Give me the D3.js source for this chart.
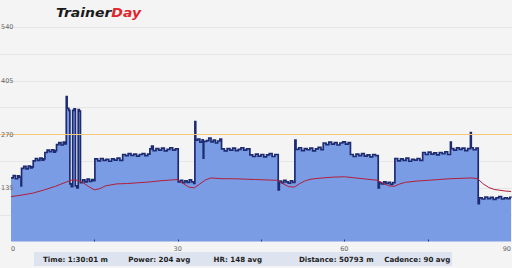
<!DOCTYPE html>
<html>
<head>
<meta charset="utf-8">
<script src="https://cdn.jsdelivr.net/npm/d3@7"></script>
<style>
  html, body { margin: 0; padding: 0; background: #f4f4f4; }
  svg { display: block; }
</style>
</head>
<body>
<div id="chart"></div>
<script>
// Workout-Verlauf: Leistung (Fläche) und Herzfrequenz (Linie)

// Leistung in Watt, Zeit in Minuten (Stufen)
const powerTime = [
  0, 0.4, 0.8, 1.2, 1.5, 1.8,
  1.9, 2.3, 2.7, 3.1, 3.5, 3.8,
  4.0, 4.4, 4.8, 5.2, 5.6, 5.9,
  6.1, 6.5, 6.9, 7.3, 7.7, 8.0,
  8.2, 8.6, 9.0, 9.4, 9.7,
  9.95, 10.1, 10.4, 10.6, 10.85, 11.1, 11.35, 11.6, 11.85, 12.1, 12.3,
  12.5, 12.9, 13.3, 13.7, 14.1, 14.5, 14.8,
  15.1, 15.6, 16.1, 16.6, 17.1, 17.6, 18.1, 18.6, 19.1, 19.6,
  20.1, 20.6, 21.1, 21.6, 22.1, 22.6, 23.1, 23.6, 24.1, 24.6,
  25.0, 25.3, 25.6, 26.1, 26.6, 27.1, 27.6, 28.1, 28.6, 29.1, 29.6,
  30.1, 30.5, 30.9, 31.3, 31.7, 32.1, 32.5, 32.9,
  33.1, 33.25, 33.6, 34.0, 34.4, 34.6, 34.7, 35.2, 35.6, 36.0, 36.4, 36.8, 37.2, 37.6,
  37.9, 38.4, 38.9, 39.4, 39.9, 40.4, 40.9, 41.4, 41.9, 42.4,
  43.0, 43.5, 44.0, 44.5, 45.0, 45.5, 46.0, 46.5, 47.0, 47.5,
  48.1, 48.3, 48.7, 49.1, 49.5, 49.9, 50.3, 50.7,
  51.1, 51.3, 51.8, 52.3, 52.8, 53.3, 53.8, 54.3, 54.8, 55.3, 55.8,
  56.2, 56.7, 57.2, 57.7, 58.2, 58.7, 59.2, 59.7, 60.2, 60.7,
  61.1, 61.6, 62.1, 62.6, 63.1, 63.6, 64.1, 64.6, 65.1, 65.6,
  66.1, 66.3, 66.7, 67.1, 67.5, 67.9, 68.3, 68.7,
  69.1, 69.6, 70.1, 70.6, 71.1, 71.6, 72.1, 72.6, 73.1, 73.6,
  74.1, 74.6, 75.1, 75.6, 76.1, 76.6, 77.1, 77.6, 78.1, 78.6,
  79.1, 79.25, 79.7, 80.2, 80.7, 81.2, 81.7, 82.2, 82.7, 82.85, 83.2, 83.7,
  84.1, 84.3, 84.8, 85.3, 85.8, 86.3, 86.8, 87.3, 87.8, 88.3, 88.8, 89.3, 89.8, 90
];
const powerWatts = [
  160, 166, 158, 165, 162, 140,
  184, 189, 183, 190, 185, 188,
  203, 209, 204, 210, 205, 208,
  224, 230, 226, 231, 225, 229,
  244, 249, 243, 250, 246,
  365, 335, 330, 145, 138, 330, 334, 140, 135, 332, 328,
  148, 155, 150, 157, 151, 156, 153,
  208, 203, 209, 204, 207, 202, 208, 205, 210, 204,
  219, 216, 221, 217, 220, 215, 219, 221, 216, 220,
  233, 240, 229, 234, 230, 235, 228, 232, 236, 230, 233,
  150, 154, 148, 153, 149, 155, 150, 146,
  302, 255, 258, 250, 256, 210, 252, 254, 260, 251, 255, 248, 253, 258,
  233, 228, 234, 230, 235, 229, 232, 236, 230, 233,
  218, 214, 220, 215, 219, 213, 218, 221, 214, 219,
  130, 152, 148, 154, 150, 147, 153, 149,
  255, 232, 236, 229, 234, 231, 235, 228, 233, 237, 231,
  248, 244, 250, 245, 249, 243, 248, 251, 245, 249,
  219, 214, 220, 216, 221, 215, 218, 213, 219, 216,
  135, 148, 145, 150, 146, 149, 144, 148,
  209, 203, 208, 204, 210, 202, 207, 205, 209, 204,
  224, 219, 225, 220, 223, 218, 224, 221, 226, 219,
  250, 234, 230, 236, 232, 235, 229, 234, 274, 236, 231, 235,
  95, 110, 107, 112, 108, 111, 106, 110, 113, 107, 110, 108, 111, 110
];

// Herzfrequenz (bpm)
const hrTime = [
  0, 2, 4, 6, 8, 10, 11, 12, 13, 14, 15, 16, 17, 19, 21, 23, 25, 27, 29, 30,
  31, 32, 33, 34, 35, 36, 38, 40, 42, 44, 46, 48, 49, 50, 51, 52, 53, 54, 56,
  58, 60, 62, 64, 66, 67, 68, 69, 70, 71, 73, 75, 77, 79, 81, 83, 84, 85, 86,
  87, 88, 89, 90
];
const hrBpm = [
  113, 117, 122, 130, 139, 150, 155, 154, 148, 138, 130, 133, 140, 145, 146, 148, 150, 153, 155, 156,
  146, 137, 135, 145, 155, 160, 158, 158, 157, 156, 155, 154, 145, 138, 137, 146, 153, 157, 160,
  162, 163, 160, 157, 154, 146, 140, 139, 145, 149, 152, 154, 156, 158, 159, 160, 158, 145, 136,
  131, 129, 127, 126
];

const ftp = 270;
const yLabels = [135, 270, 405, 540];
const yGrid = [67.5, 135, 202.5, 270, 337.5, 405, 472.5, 540];
const xLabels = [0, 30, 60, 90];
const xTicks = [15, 30, 45, 60, 75];

const stats = [
  "Time: 1:30:01 m",
  "Power: 204 avg",
  "HR: 148 avg",
  "Distance: 50793 m",
  "Cadence: 90 avg"
];

const W = 512, H = 268;
const margin = { top: 27, right: 1, bottom: 27, left: 11 };

const svg = d3.select("#chart")
  .append("svg")
  .attr("width", W)
  .attr("height", H)
  .style("font-family", "'DejaVu Sans', sans-serif");

svg.append("rect").attr("width", W).attr("height", H).attr("fill", "#f4f4f4");

// Skalen
const x = d3.scaleLinear().domain([0, 90]).range([margin.left, W - margin.right]);
const y = d3.scaleLinear().domain([0, 540]).range([H - margin.bottom + 0.5, margin.top]);

// Gitterlinien
svg.append("g")
  .selectAll("line")
  .data(yGrid)
  .join("line")
  .attr("x1", 0)
  .attr("x2", W)
  .attr("y1", d => Math.round(y(d)) + 0.5)
  .attr("y2", d => Math.round(y(d)) + 0.5)
  .attr("stroke", "#e6e6e6")
  .attr("stroke-width", 1);

const power = powerTime.map((t, i) => ({ t, w: powerWatts[i] }));
const hr = hrTime.map((t, i) => ({ t, v: hrBpm[i] }));

// Leistungsfläche
const area = d3.area()
  .x(d => x(d.t))
  .y0(y(0))
  .y1(d => y(d.w))
  .curve(d3.curveStepAfter);

svg.append("path")
  .datum(power)
  .attr("fill", "#7a9ce4")
  .attr("d", area);

const line = d3.line()
  .x(d => x(d.t))
  .y(d => y(d.w))
  .curve(d3.curveStepAfter);

svg.append("path")
  .datum(power)
  .attr("fill", "none")
  .attr("stroke", "#1d2c72")
  .attr("stroke-width", 1.7)
  .attr("d", line);

// FTP-Linie
svg.append("line")
  .attr("x1", 0)
  .attr("x2", W)
  .attr("y1", Math.round(y(ftp)) + 0.5)
  .attr("y2", Math.round(y(ftp)) + 0.5)
  .attr("stroke", "#f3c77c")
  .attr("stroke-width", 1);

// Herzfrequenz
svg.append("path")
  .datum(hr)
  .attr("fill", "none")
  .attr("stroke", "#b01e3a")
  .attr("stroke-width", 1)
  .attr("d", d3.line().x(d => x(d.t)).y(d => y(d.v)));

// y-Beschriftung
svg.append("g")
  .selectAll("text")
  .data(yLabels)
  .join("text")
  .attr("x", 1)
  .attr("y", d => y(d))
  .attr("dy", "0.35em")
  .attr("font-size", 6.5)
  .attr("fill", "#666")
  .text(d => d);

// x-Achse: kleine Striche an der Grundlinie
svg.append("g")
  .selectAll("line")
  .data(xTicks)
  .join("line")
  .attr("x1", d => Math.round(x(d)) + 0.5)
  .attr("x2", d => Math.round(x(d)) + 0.5)
  .attr("y1", y(0) - 2)
  .attr("y2", y(0))
  .attr("stroke", "#2a3a80");

svg.append("g")
  .selectAll("text")
  .data(xLabels)
  .join("text")
  .attr("x", d => x(d))
  .attr("y", y(0) + 9)
  .attr("text-anchor", d => d === 0 ? "start" : (d === 90 ? "end" : "middle"))
  .attr("font-size", 6.5)
  .attr("fill", "#666")
  .text(d => d);

// Statistikleiste
svg.append("rect")
  .attr("x", 34)
  .attr("y", 252)
  .attr("width", 418)
  .attr("height", 14)
  .attr("fill", "#dde3ef");

svg.append("g")
  .selectAll("text")
  .data(stats)
  .join("text")
  .attr("x", (d, i) => 43 + i * 85.3)
  .attr("y", 262)
  .attr("font-size", 7.1)
  .attr("font-weight", "bold")
  .attr("fill", "#1e1e1e")
  .text(d => d);

// Logo
const logo = svg.append("text")
  .attr("x", 56)
  .attr("y", 17)
  .attr("font-size", 12.5)
  .attr("font-weight", "bold")
  .attr("font-style", "italic")
  .attr("textLength", 85)
  .attr("lengthAdjust", "spacingAndGlyphs");
logo.append("tspan").attr("fill", "#1a1a1a").text("Trainer");
logo.append("tspan").attr("fill", "#e0262b").text("Day");
</script>
</body>
</html>
